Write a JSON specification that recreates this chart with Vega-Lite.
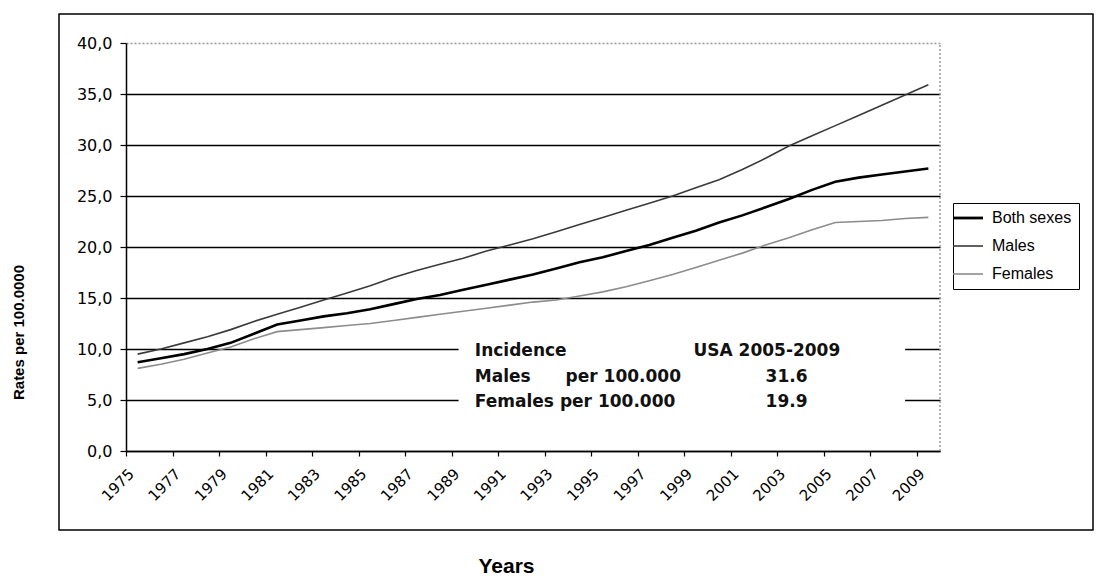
{
  "$schema": "https://vega.github.io/schema/vega-lite/v6.json",
  "width": 1034,
  "height": 516,
  "autosize": {"type": "none"},
  "padding": {"left": 59, "top": 14, "right": 4, "bottom": 49},
  "background": "white",
  "config": {"view": {"stroke": "#000", "strokeWidth": 1.5}},
  "datasets": {
    "rates": [
      {"year": 1975, "Both sexes": 8.7, "Males": 9.5, "Females": 8.1},
      {"year": 1976, "Both sexes": 9.1, "Males": 10.0, "Females": 8.5},
      {"year": 1977, "Both sexes": 9.5, "Males": 10.6, "Females": 9.0},
      {"year": 1978, "Both sexes": 10.0, "Males": 11.2, "Females": 9.6},
      {"year": 1979, "Both sexes": 10.6, "Males": 11.9, "Females": 10.2},
      {"year": 1980, "Both sexes": 11.5, "Males": 12.7, "Females": 11.0},
      {"year": 1981, "Both sexes": 12.4, "Males": 13.4, "Females": 11.7},
      {"year": 1982, "Both sexes": 12.8, "Males": 14.1, "Females": 11.9},
      {"year": 1983, "Both sexes": 13.2, "Males": 14.8, "Females": 12.1},
      {"year": 1984, "Both sexes": 13.5, "Males": 15.5, "Females": 12.3},
      {"year": 1985, "Both sexes": 13.9, "Males": 16.2, "Females": 12.5},
      {"year": 1986, "Both sexes": 14.4, "Males": 17.0, "Females": 12.8},
      {"year": 1987, "Both sexes": 14.9, "Males": 17.7, "Females": 13.1},
      {"year": 1988, "Both sexes": 15.3, "Males": 18.3, "Females": 13.4},
      {"year": 1989, "Both sexes": 15.8, "Males": 18.9, "Females": 13.7},
      {"year": 1990, "Both sexes": 16.3, "Males": 19.6, "Females": 14.0},
      {"year": 1991, "Both sexes": 16.8, "Males": 20.2, "Females": 14.3},
      {"year": 1992, "Both sexes": 17.3, "Males": 20.8, "Females": 14.6},
      {"year": 1993, "Both sexes": 17.9, "Males": 21.5, "Females": 14.8},
      {"year": 1994, "Both sexes": 18.5, "Males": 22.2, "Females": 15.2},
      {"year": 1995, "Both sexes": 19.0, "Males": 22.9, "Females": 15.6},
      {"year": 1996, "Both sexes": 19.6, "Males": 23.6, "Females": 16.1},
      {"year": 1997, "Both sexes": 20.2, "Males": 24.3, "Females": 16.7},
      {"year": 1998, "Both sexes": 20.9, "Males": 25.0, "Females": 17.3},
      {"year": 1999, "Both sexes": 21.6, "Males": 25.8, "Females": 18.0},
      {"year": 2000, "Both sexes": 22.4, "Males": 26.6, "Females": 18.7},
      {"year": 2001, "Both sexes": 23.1, "Males": 27.6, "Females": 19.4},
      {"year": 2002, "Both sexes": 23.9, "Males": 28.7, "Females": 20.2},
      {"year": 2003, "Both sexes": 24.7, "Males": 29.9, "Females": 20.9},
      {"year": 2004, "Both sexes": 25.6, "Males": 30.9, "Females": 21.7},
      {"year": 2005, "Both sexes": 26.4, "Males": 31.9, "Females": 22.4},
      {"year": 2006, "Both sexes": 26.8, "Males": 32.9, "Females": 22.5},
      {"year": 2007, "Both sexes": 27.1, "Males": 33.9, "Females": 22.6},
      {"year": 2008, "Both sexes": 27.4, "Males": 34.9, "Females": 22.8},
      {"year": 2009, "Both sexes": 27.7, "Males": 35.9, "Females": 22.9}
    ],
    "notes": [
      {"x": 1989.5, "y": 9.8, "label": "Incidence"},
      {"x": 1998.9, "y": 9.8, "label": "USA 2005-2009"},
      {"x": 1989.5, "y": 7.3, "label": "Males"},
      {"x": 1993.4, "y": 7.3, "label": "per 100.000"},
      {"x": 2002.0, "y": 7.3, "label": "31.6"},
      {"x": 1989.5, "y": 4.8, "label": "Females per 100.000"},
      {"x": 2002.0, "y": 4.8, "label": "19.9"}
    ]
  },
  "layer": [
    {
      "data": {"name": "rates"},
      "transform": [{"fold": ["Both sexes", "Males", "Females"], "as": ["series", "rate"]}],
      "mark": {"type": "line"},
      "encoding": {
        "x": {
          "field": "year", "type": "quantitative",
          "scale": {"domain": [1974.5, 2009.5], "range": [67, 881], "nice": false, "zero": false},
          "axis": {
            "values": [1974.5, 1975.5, 1976.5, 1977.5, 1978.5, 1979.5, 1980.5, 1981.5, 1982.5, 1983.5, 1984.5, 1985.5, 1986.5, 1987.5, 1988.5, 1989.5, 1990.5, 1991.5, 1992.5, 1993.5, 1994.5, 1995.5, 1996.5, 1997.5, 1998.5, 1999.5, 2000.5, 2001.5, 2002.5, 2003.5, 2004.5, 2005.5, 2006.5, 2007.5, 2008.5, 2009.5],
            "labelExpr": "(datum.value + 0.5) % 2 == 1 ? format(datum.value + 0.5, 'd') : ''",
            "offset": -79,
            "grid": false,
            "domainColor": "#000", "domainWidth": 1.5,
            "tickColor": "#000", "tickSize": 5, "tickWidth": 1.2,
            "labelAngle": -45, "labelAlign": "right", "labelBaseline": "top",
            "labelFont": "DejaVu Sans", "labelFontSize": 15, "labelColor": "#000",
            "labelPadding": 10, "labelOverlap": false, "labelBound": false, "labelFlush": false,
            "title": "Years", "titleFont": "Liberation Sans", "titleFontSize": 21, "titleFontWeight": "bold", "titleColor": "#000",
            "titleX": 447, "titleY": 115, "titleAlign": "center", "titleBaseline": "middle"
          }
        },
        "y": {
          "field": "rate", "type": "quantitative",
          "scale": {"domain": [0, 40], "range": [437, 29], "nice": false, "zero": true},
          "axis": {
            "values": [0, 5, 10, 15, 20, 25, 30, 35, 40],
            "labelExpr": "replace(format(datum.value, '.1f'), '.', ',')",
            "offset": -67,
            "grid": true,
            "gridColor": {"condition": {"test": "datum.value == 40", "value": "#999"}, "value": "#000"},
            "gridDash": {"condition": {"test": "datum.value == 40", "value": [2, 2]}, "value": []},
            "gridWidth": 1.5,
            "domainColor": "#000", "domainWidth": 1.5,
            "tickColor": "#000", "tickSize": 6, "tickWidth": 1.2,
            "labelFont": "DejaVu Sans", "labelFontSize": 16, "labelColor": "#000", "labelPadding": 8,
            "title": "Rates per 100.0000", "titleFont": "Liberation Sans", "titleFontSize": 15, "titleFontWeight": "bold", "titleColor": "#000",
            "titleX": -108, "titleY": 318, "titleAlign": "center", "titleBaseline": "middle", "titleAngle": -90
          }
        },
        "color": {
          "field": "series", "type": "nominal",
          "scale": {"domain": ["Both sexes", "Males", "Females"], "range": ["#000000", "#3a3a3a", "#8c8c8c"]},
          "legend": {
            "orient": "none", "legendX": 894, "legendY": 189, "title": null,
            "strokeColor": "#000", "fillColor": "#fff", "padding": 7,
            "symbolType": "stroke", "symbolSize": 900, "symbolStrokeWidth": 1.6,
            "labelFont": "Liberation Sans", "labelFontSize": 16, "labelColor": "#000",
            "rowPadding": 12, "labelOffset": 16,
            "encode": {"symbols": {"update": {"strokeWidth": {"signal": "datum.value === 'Both sexes' ? 2.8 : 1.6"}}}}
          }
        },
        "strokeWidth": {"condition": {"test": "datum.series === 'Both sexes'", "value": 2.6}, "value": 1.6}
      }
    },
    {
      "data": {"values": [{}]},
      "mark": {"type": "rect", "fill": "white"},
      "encoding": {
        "x": {"datum": 1988.8, "type": "quantitative"},
        "x2": {"datum": 2008.0},
        "y": {"datum": 2.5, "type": "quantitative"},
        "y2": {"datum": 11.5}
      }
    },
    {
      "data": {"values": [{}]},
      "mark": {"type": "rule", "stroke": "#999", "strokeDash": [2, 2], "strokeWidth": 1.5},
      "encoding": {
        "x": {"datum": 2009.5, "type": "quantitative"},
        "y": {"datum": 0, "type": "quantitative"},
        "y2": {"datum": 40}
      }
    },
    {
      "data": {"name": "notes"},
      "mark": {"type": "text", "align": "left", "baseline": "middle", "font": "DejaVu Sans", "fontSize": 17, "fontWeight": "bold", "color": "#111"},
      "encoding": {
        "x": {"field": "x", "type": "quantitative"},
        "y": {"field": "y", "type": "quantitative"},
        "text": {"field": "label", "type": "nominal"}
      }
    }
  ]
}
